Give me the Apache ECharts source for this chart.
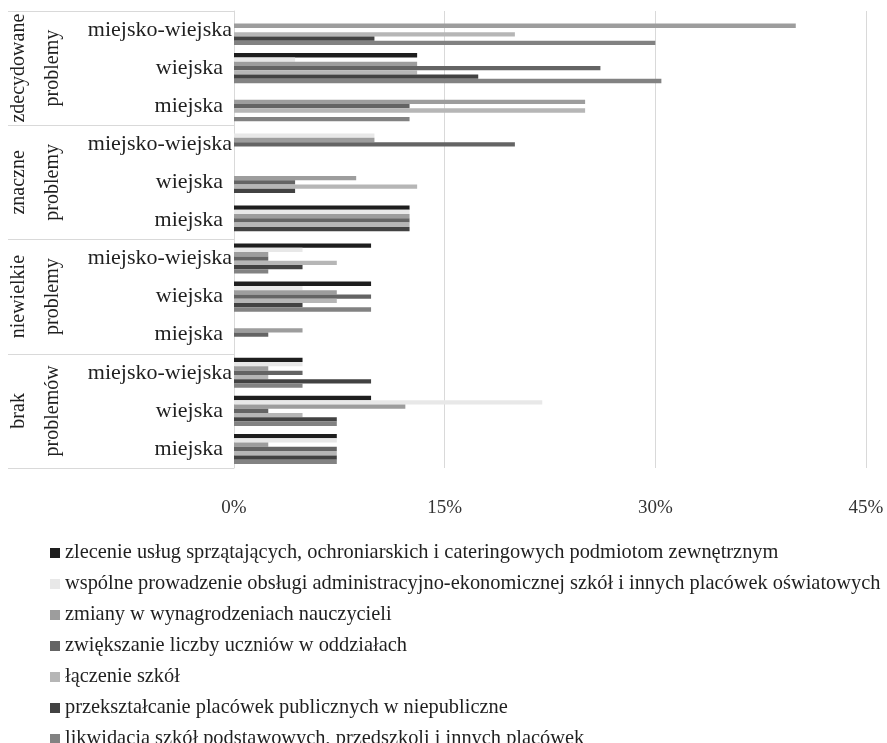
<!DOCTYPE html>
<html>
<head>
<meta charset="utf-8">
<script src="https://cdn.jsdelivr.net/npm/echarts@6/dist/echarts.min.js"></script>
<style>
  html, body { margin: 0; padding: 0; background: #ffffff; }
  #chart { width: 887px; height: 743px; }
</style>
</head>
<body>
<div id="chart"></div>
<script>
// Gmina types (inner rows, top to bottom inside each group)
const gminaTypes = ['miejsko-wiejska', 'wiejska', 'miejska'];
// Severity groups (outer rows, top to bottom)
const problemGroups = ['zdecydowane\nproblemy', 'znaczne\nproblemy', 'niewielkie\nproblemy', 'brak\nproblemów'];
// Value axis ticks
const percentTicks = [0, 15, 30, 45];

// Percent of gminas per action; 12 rows = 4 groups x 3 gmina types
const zlecenie        = [0, 13.04, 0,    0, 0, 12.5,    9.76, 9.76, 0,    4.88, 9.76, 7.32];
const wspolne         = [0, 4.35, 0,     10, 0, 12.5,   4.88, 4.88, 0,    4.88, 21.95, 7.32];
const zmiany          = [40, 13.04, 25,  10, 8.70, 12.5, 2.44, 7.32, 4.88, 2.44, 12.2, 2.44];
const zwiekszanie     = [0, 26.09, 12.5, 20, 4.35, 12.5, 2.44, 9.76, 2.44, 4.88, 2.44, 7.32];
const laczenie        = [20, 13.04, 25,  0, 13.04, 12.5, 7.32, 7.32, 0,   2.44, 4.88, 7.32];
const przeksztalcanie = [10, 17.39, 0,   0, 4.35, 12.5,  4.88, 4.88, 0,   9.76, 7.32, 7.32];
const likwidacja      = [30, 30.43, 12.5, 0, 0, 0,       2.44, 9.76, 0,   4.88, 7.32, 7.32];

const seriesNames = [
  'zlecenie usług sprzątających, ochroniarskich i cateringowych podmiotom zewnętrznym',
  'wspólne prowadzenie obsługi administracyjno-ekonomicznej szkół i innych placówek oświatowych',
  'zmiany w wynagrodzeniach nauczycieli',
  'zwiększanie liczby uczniów w oddziałach',
  'łączenie szkół',
  'przekształcanie placówek publicznych w niepubliczne',
  'likwidacja szkół podstawowych, przedszkoli i innych placówek'
];
const seriesData = [zlecenie, wspolne, zmiany, zwiekszanie, laczenie, przeksztalcanie, likwidacja];
const seriesColors = ['#1e1e1e', '#e8e8e8', '#9d9d9d', '#646464', '#b6b6b6', '#424242', '#828282'];

const rowLabels = [];
problemGroups.forEach(() => gminaTypes.forEach(t => rowLabels.push(t)));

const FONT = 'Liberation Serif';
const GRID_LINE = '#d9d9d9';
const TEXT = '#1f1f1f';

const chart = echarts.init(document.getElementById('chart'), null, { renderer: 'canvas' });

chart.setOption({
  backgroundColor: '#ffffff',
  animation: false,
  textStyle: { fontFamily: FONT },
  grid: { left: 234, right: 21, top: 11, bottom: 275, containLabel: false },
  legend: {
    orient: 'vertical',
    left: 50,
    top: 543,
    height: 240,
    padding: 0,
    itemWidth: 10,
    itemHeight: 10,
    itemGap: 11,
    icon: 'rect',
    textStyle: { fontFamily: FONT, fontSize: 20.4, lineHeight: 20, color: TEXT },
    data: seriesNames
  },
  xAxis: {
    type: 'value',
    min: percentTicks[0],
    max: percentTicks[percentTicks.length - 1],
    interval: percentTicks[1] - percentTicks[0],
    axisLine: { show: false },
    axisTick: { show: false },
    splitLine: { show: true, lineStyle: { color: GRID_LINE, width: 1 } },
    axisLabel: {
      formatter: '{value}%',
      fontFamily: FONT,
      fontSize: 19,
      color: '#333333',
      margin: 31
    }
  },
  yAxis: [
    {
      type: 'category',
      inverse: true,
      data: rowLabels,
      axisLine: { show: true, lineStyle: { color: GRID_LINE, width: 1 } },
      axisTick: { show: false },
      axisLabel: {
        interval: 0,
        margin: 2,
        formatter: v => (v === 'miejsko-wiejska' ? '{w|' + v + '}' : '{s|' + v + '}'),
        rich: {
          w: { fontFamily: FONT, fontSize: 22, color: TEXT },
          s: { fontFamily: FONT, fontSize: 22, color: TEXT, padding: [0, 9, 0, 0] }
        }
      }
    },
    {
      type: 'category',
      inverse: true,
      position: 'left',
      data: problemGroups,
      axisLine: { show: false },
      axisTick: { show: true, length: 226, interval: 0, lineStyle: { color: GRID_LINE, width: 1 } },
      axisLabel: {
        rotate: 90,
        interval: 0,
        margin: 164,
        fontFamily: FONT,
        fontSize: 20,
        lineHeight: 34,
        color: TEXT,
        align: 'center'
      }
    }
  ],
  series: seriesNames.map((name, i) => ({
    name: name,
    type: 'bar',
    yAxisIndex: 0,
    data: seriesData[i],
    itemStyle: { color: seriesColors[i] },
    barGap: '0%',
    barCategoryGap: '21%'
  }))
});
</script>
</body>
</html>
